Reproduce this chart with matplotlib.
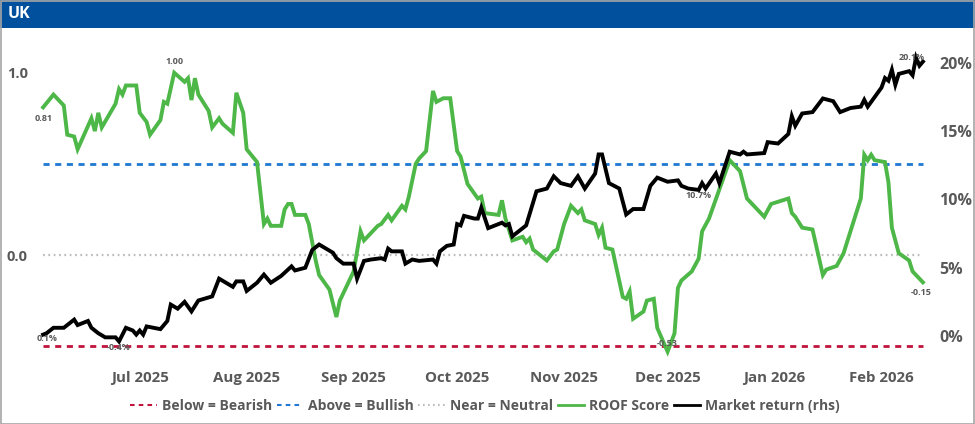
"""
UK ROOF score vs market return chart.
"""

import matplotlib
matplotlib.use("Agg")
import matplotlib.pyplot as plt
import matplotlib.dates as mdates
import matplotlib.ticker as mticker
from matplotlib.lines import Line2D
from matplotlib.patches import Rectangle
import pandas as pd

# ROOF score (left axis)
roof_dates = [
    "2025-06-03", "2025-06-06", "2025-06-09", "2025-06-10", "2025-06-12", "2025-06-13",
    "2025-06-17", "2025-06-18", "2025-06-19", "2025-06-20", "2025-06-24", "2025-06-25",
    "2025-06-26", "2025-06-27", "2025-06-30", "2025-07-01", "2025-07-03", "2025-07-04",
    "2025-07-07", "2025-07-08", "2025-07-09", "2025-07-11", "2025-07-14", "2025-07-15",
    "2025-07-16", "2025-07-17", "2025-07-18", "2025-07-21", "2025-07-22", "2025-07-24",
    "2025-07-25", "2025-07-28", "2025-07-29", "2025-07-31", "2025-08-01", "2025-08-04",
    "2025-08-06", "2025-08-07", "2025-08-08", "2025-08-11", "2025-08-12", "2025-08-13",
    "2025-08-14", "2025-08-15", "2025-08-18", "2025-08-19", "2025-08-21", "2025-08-22",
    "2025-08-25", "2025-08-27", "2025-08-28", "2025-09-01", "2025-09-03", "2025-09-04",
    "2025-09-08", "2025-09-09", "2025-09-11", "2025-09-12", "2025-09-15", "2025-09-16",
    "2025-09-17", "2025-09-19", "2025-09-20", "2025-09-22", "2025-09-24", "2025-09-25",
    "2025-09-27", "2025-09-29", "2025-10-01", "2025-10-02", "2025-10-04", "2025-10-07",
    "2025-10-08", "2025-10-09", "2025-10-13", "2025-10-14", "2025-10-15", "2025-10-17",
    "2025-10-20", "2025-10-21", "2025-10-22", "2025-10-23", "2025-10-27", "2025-10-29",
    "2025-10-30", "2025-11-01", "2025-11-03", "2025-11-05", "2025-11-06", "2025-11-07",
    "2025-11-10", "2025-11-11", "2025-11-12", "2025-11-13", "2025-11-15", "2025-11-18",
    "2025-11-19", "2025-11-20", "2025-11-21", "2025-11-24", "2025-11-25", "2025-11-27",
    "2025-11-28", "2025-12-01", "2025-12-03", "2025-12-04", "2025-12-05", "2025-12-08",
    "2025-12-10", "2025-12-11", "2025-12-13", "2025-12-19", "2025-12-22", "2025-12-24",
    "2025-12-29", "2025-12-31", "2026-01-05", "2026-01-06", "2026-01-07", "2026-01-09",
    "2026-01-12", "2026-01-15", "2026-01-16", "2026-01-19", "2026-01-21", "2026-01-26",
    "2026-01-27", "2026-01-28", "2026-01-29", "2026-01-30", "2026-02-02", "2026-02-03",
    "2026-02-04", "2026-02-06", "2026-02-09", "2026-02-10", "2026-02-13",
]
roof_score = [
    0.81, 0.88, 0.82, 0.66, 0.65, 0.58,
    0.75, 0.68, 0.78, 0.70, 0.83, 0.91,
    0.88, 0.93, 0.93, 0.78, 0.73, 0.66,
    0.74, 0.84, 0.83, 1.00, 0.95, 0.97,
    0.85, 0.97, 0.88, 0.79, 0.70, 0.75,
    0.72, 0.67, 0.89, 0.78, 0.58, 0.51,
    0.17, 0.20, 0.16, 0.16, 0.25, 0.28,
    0.28, 0.22, 0.22, 0.17, -0.03, -0.11,
    -0.19, -0.34, -0.25, -0.09, 0.13, 0.08,
    0.16, 0.17, 0.22, 0.19, 0.27, 0.25,
    0.32, 0.50, 0.53, 0.57, 0.90, 0.84,
    0.86, 0.86, 0.57, 0.54, 0.39, 0.31,
    0.32, 0.23, 0.22, 0.30, 0.20, 0.08,
    0.10, 0.07, 0.09, 0.03, -0.03, 0.02,
    0.03, 0.17, 0.27, 0.23, 0.25, 0.19,
    0.17, 0.11, 0.15, 0.04, 0.03, -0.23,
    -0.24, -0.20, -0.35, -0.31, -0.25, -0.24,
    -0.40, -0.53, -0.43, -0.18, -0.14, -0.09,
    -0.02, 0.13, 0.20, 0.52, 0.46, 0.31,
    0.21, 0.28, 0.31, 0.23, 0.21, 0.15,
    0.14, -0.11, -0.08, -0.06, 0.01, 0.31,
    0.55, 0.52, 0.55, 0.52, 0.51, 0.40,
    0.15, 0.01, -0.03, -0.09, -0.15,
]

# Market return in % (right axis)
ret_dates = [
    "2025-06-03", "2025-06-04", "2025-06-06", "2025-06-09", "2025-06-12", "2025-06-13",
    "2025-06-16", "2025-06-17", "2025-06-19", "2025-06-21", "2025-06-24", "2025-06-25",
    "2025-06-27", "2025-06-29", "2025-06-30", "2025-07-01", "2025-07-02", "2025-07-03",
    "2025-07-05", "2025-07-07", "2025-07-09", "2025-07-10", "2025-07-12", "2025-07-14",
    "2025-07-16", "2025-07-18", "2025-07-22", "2025-07-24", "2025-07-28", "2025-07-29",
    "2025-07-31", "2025-08-01", "2025-08-04", "2025-08-06", "2025-08-08", "2025-08-11",
    "2025-08-14", "2025-08-15", "2025-08-18", "2025-08-20", "2025-08-22", "2025-08-26",
    "2025-08-27", "2025-08-29", "2025-09-01", "2025-09-02", "2025-09-04", "2025-09-06",
    "2025-09-09", "2025-09-10", "2025-09-11", "2025-09-12", "2025-09-15", "2025-09-16",
    "2025-09-18", "2025-09-20", "2025-09-24", "2025-09-25", "2025-09-26", "2025-09-28",
    "2025-09-30", "2025-10-01", "2025-10-02", "2025-10-03", "2025-10-06", "2025-10-07",
    "2025-10-08", "2025-10-10", "2025-10-14", "2025-10-15", "2025-10-16", "2025-10-17",
    "2025-10-21", "2025-10-24", "2025-10-27", "2025-10-29", "2025-10-31", "2025-11-03",
    "2025-11-05", "2025-11-07", "2025-11-10", "2025-11-11", "2025-11-12", "2025-11-14",
    "2025-11-17", "2025-11-19", "2025-11-21", "2025-11-24", "2025-11-26", "2025-11-28",
    "2025-12-01", "2025-12-04", "2025-12-05", "2025-12-07", "2025-12-10", "2025-12-11",
    "2025-12-12", "2025-12-15", "2025-12-16", "2025-12-19", "2025-12-22", "2025-12-23",
    "2025-12-24", "2025-12-29", "2025-12-30", "2026-01-02", "2026-01-05", "2026-01-06",
    "2026-01-07", "2026-01-09", "2026-01-12", "2026-01-15", "2026-01-18", "2026-01-20",
    "2026-01-23", "2026-01-26", "2026-01-27", "2026-01-28", "2026-02-01", "2026-02-02",
    "2026-02-03", "2026-02-04", "2026-02-05", "2026-02-06", "2026-02-09", "2026-02-10",
    "2026-02-11", "2026-02-12", "2026-02-13",
]
market_return = [
    0.1, 0.2, 0.6, 0.6, 1.2, 0.8,
    1.1, 0.6, 0.2, -0.1, -0.1, -0.4,
    0.6, 0.4, 0.1, 0.4, 0.1, 0.7,
    0.6, 0.5, 1.1, 2.3, 2.0, 2.5,
    1.8, 2.6, 2.9, 4.2, 3.6, 4.0,
    4.0, 3.3, 3.9, 4.5, 3.9, 4.4,
    5.1, 4.8, 5.0, 6.3, 6.7, 6.1,
    5.7, 5.3, 5.3, 4.2, 5.5, 5.6,
    5.7, 5.6, 6.4, 6.2, 6.2, 5.3,
    5.6, 5.5, 5.6, 5.3, 6.2, 6.6,
    6.7, 8.2, 8.1, 8.8, 8.6, 8.6,
    9.4, 7.9, 8.3, 8.1, 8.2, 7.3,
    8.1, 10.6, 10.8, 11.7, 11.2, 11.0,
    11.7, 10.8, 11.9, 13.3, 13.3, 11.2,
    10.8, 8.9, 9.3, 9.3, 11.0, 11.6,
    11.3, 11.4, 11.0, 10.8, 10.7, 11.2,
    10.8, 11.9, 11.2, 13.5, 13.3, 13.5,
    13.3, 13.4, 14.2, 14.1, 14.8, 16.1,
    15.4, 16.3, 16.4, 17.4, 17.2, 16.4,
    16.7, 16.8, 17.3, 16.8, 18.2, 18.9,
    18.7, 19.5, 18.4, 19.2, 19.4, 19.1,
    20.4, 19.8, 20.1,
]

bearish_level = -0.5
bullish_level = 0.5
neutral_level = 0.0

month_ticks = ["2025-07-01", "2025-08-01", "2025-09-01", "2025-10-01",
               "2025-11-01", "2025-12-01", "2026-01-01", "2026-02-01"]

legend_labels = ["Below = Bearish", "Above = Bullish", "Near = Neutral",
                 "ROOF Score", "Market return (rhs)"]

GREEN = "#4DB748"
BLUE = "#1F78D2"
RED = "#C0143C"
GREY_DOT = "#BDBDBD"
TEXT = "#595959"
FONT = "Open Sans"

W, H = 975, 424
fig = plt.figure(figsize=(W / 100, H / 100), dpi=100)
fig.patch.set_facecolor("white")

# Header bar and outer frame
fig.add_artist(Rectangle((0, (H - 28) / H), 1, 28 / H, transform=fig.transFigure,
                         facecolor="#00509E", edgecolor="none", zorder=0))
fig.add_artist(Rectangle((0.5 / W, 0.5 / H), 1 - 1.5 / W, 1 - 1.5 / H,
                         transform=fig.transFigure, fill=False,
                         edgecolor="#A6A6A6", linewidth=1.2, zorder=5))
fig.text(8 / W, 1 - 14 / H, "UK", color="white", fontsize=11.5, fontweight="bold",
         family=FONT, va="center", ha="left")

ax = fig.add_axes([30 / W, (H - 360) / H, (935 - 30) / W, (360 - 35) / H])
ax2 = ax.twinx()

rd = pd.to_datetime(roof_dates)
md = pd.to_datetime(ret_dates)
span = [rd[0], rd[-1]]

ax.plot(span, [bearish_level] * 2, color=RED, lw=2, linestyle=(0, (2.2, 2.0)))
ax.plot(span, [bullish_level] * 2, color=BLUE, lw=2, linestyle=(0, (2.2, 2.0)))
ax.plot(span, [neutral_level] * 2, color=GREY_DOT, lw=1.6, linestyle=(0, (0.8, 1.6)))
ax.plot(rd, roof_score, color=GREEN, lw=2.8, solid_joinstyle="miter")
ax2.plot(md, market_return, color="black", lw=2.8, solid_joinstyle="miter")

ax.set_xlim(rd[0] - pd.Timedelta(days=3.8), rd[-1] + pd.Timedelta(days=3.5))
ax.set_ylim(-0.576, 1.207)
ax2.set_ylim(-1.76, 22.05)

ax.yaxis.set_major_locator(mticker.MultipleLocator(1.0))
ax.yaxis.set_major_formatter(mticker.FormatStrFormatter("%.1f"))
ax2.yaxis.set_major_locator(mticker.MultipleLocator(5))
ax2.yaxis.set_major_formatter(mticker.FormatStrFormatter("%d%%"))
ax.set_xticks(pd.to_datetime(month_ticks))
ax.xaxis.set_major_formatter(mdates.DateFormatter("%b %Y"))

for a in (ax, ax2):
    for s in a.spines.values():
        s.set_visible(False)
ax.tick_params(axis="y", length=0, pad=1.5, labelsize=10.5, labelcolor=TEXT)
ax2.tick_params(axis="y", length=0, pad=3, labelsize=11.5, labelcolor=TEXT)
ax.tick_params(axis="x", length=0, pad=8, labelsize=10.8, labelcolor=TEXT)
for lab in ax.get_xticklabels() + ax.get_yticklabels() + ax2.get_yticklabels():
    lab.set_fontweight("bold")
    lab.set_family(FONT)

# Point labels
ann = dict(textcoords="offset pixels", fontsize=6.5, color=TEXT, family=FONT,
           fontweight="bold", ha="center", va="center")
ax.annotate("0.81", (rd[0], roof_score[0]), xytext=(1, -11), **ann)
i_max = roof_score.index(max(roof_score))
ax.annotate("1.00", (rd[i_max], roof_score[i_max]), xytext=(0, 11), **ann)
i_min = roof_score.index(min(roof_score))
ax.annotate("-0.53", (rd[i_min], roof_score[i_min]), xytext=(0, 8), **ann)
ax.annotate("-0.15", (rd[-1], roof_score[-1]), xytext=(-2, -10), **ann)

ax2.annotate("0.1%", (md[0], market_return[0]), xytext=(4, -4), **ann)
j_min = market_return.index(min(market_return))
ax2.annotate("-0.4%", (md[j_min], market_return[j_min]), xytext=(0, -6), **ann)
j_dec = ret_dates.index("2025-12-10")
ax2.annotate("10.7%", (md[j_dec], market_return[j_dec]), xytext=(0, -6), **ann)
ax2.annotate("20.1%", (md[-1], market_return[-1]), xytext=(-11, 4), **ann)

handles = [
    Line2D([], [], color=RED, lw=1.5, linestyle=(0, (2.2, 2.0))),
    Line2D([], [], color=BLUE, lw=1.5, linestyle=(0, (2.2, 2.0))),
    Line2D([], [], color=GREY_DOT, lw=1.5, linestyle=(0, (0.8, 1.6))),
    Line2D([], [], color=GREEN, lw=2),
    Line2D([], [], color="black", lw=2),
]
fig.legend(handles, legend_labels, loc="center", bbox_to_anchor=(485 / W, 1 - 406 / H),
           ncol=5, frameon=False, handlelength=1.9, handletextpad=0.35,
           columnspacing=0.35, labelcolor=TEXT,
           prop={"family": FONT, "weight": "bold", "size": 10})

fig.savefig("out.png", dpi=100)
